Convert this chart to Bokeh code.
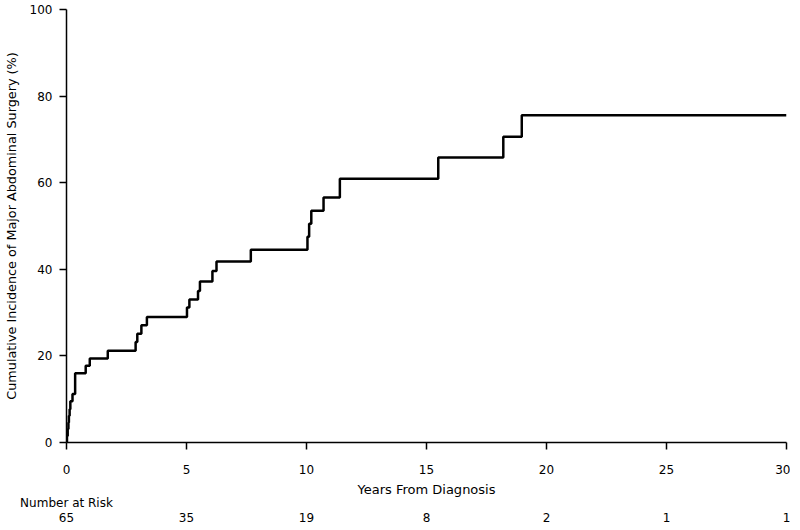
from bokeh.plotting import figure
from bokeh.models import LinearAxis, FixedTicker, Range1d
from bokeh.embed import file_html
from bokeh.resources import INLINE

# Kaplan-Meier style cumulative incidence (step after each event)
years = [0, 0.02, 0.05, 0.08, 0.10, 0.13, 0.16, 0.25, 0.36, 0.80, 0.97, 1.72,
         2.88, 2.95, 3.12, 3.35, 5.02, 5.12, 5.48, 5.56, 6.08, 6.25, 7.68,
         10.04, 10.11, 10.20, 10.71, 11.39, 15.49, 18.20, 18.97, 30.0]
incidence = [0, 1.5, 3.1, 4.6, 6.2, 7.7, 9.5, 11.2, 16.0, 17.7, 19.4, 21.2,
             23.2, 25.1, 27.1, 29.0, 31.2, 33.0, 35.0, 37.2, 39.6, 41.8, 44.5,
             47.5, 50.5, 53.5, 56.6, 60.9, 65.8, 70.6, 75.6, 75.6]

x_ticks = [0, 5, 10, 15, 20, 25, 30]
y_ticks = [0, 20, 40, 60, 80, 100]
risk_years = [0, 5, 10, 15, 20, 25, 30]
risk_counts = ["65", "35", "19", "8", "2", "1", "1"]
risk_title = "Number at Risk"

FONT = "DejaVu Sans"

p = figure(frame_width=720, frame_height=433,
           min_border_left=66, min_border_right=4, min_border_top=9, min_border_bottom=10,
           x_range=Range1d(0, 30), y_range=Range1d(0, 100),
           output_backend="svg", toolbar_location=None)

p.step(years, incidence, mode="after", line_width=2.5, line_color="black")

p.xgrid.visible = False
p.ygrid.visible = False
p.outline_line_color = None
p.background_fill_color = "white"
p.border_fill_color = "white"


def style(ax, size="12px"):
    ax.axis_line_width = 1.5
    ax.axis_line_color = "black"
    ax.major_tick_line_width = 1.5
    ax.major_tick_line_color = "black"
    ax.major_tick_out = 7
    ax.major_tick_in = 0
    ax.minor_tick_line_color = None
    ax.major_label_text_font = FONT
    ax.major_label_text_font_size = "12px"
    ax.major_label_text_color = "black"
    ax.axis_label_text_font = FONT
    ax.axis_label_text_font_size = size
    ax.axis_label_text_font_style = "normal"
    ax.axis_label_text_color = "black"


style(p.xaxis[0], "13px")
style(p.yaxis[0], "12.8px")

p.xaxis[0].ticker = FixedTicker(ticks=x_ticks)
p.yaxis[0].ticker = FixedTicker(ticks=y_ticks)
p.xaxis[0].axis_label = "Years From Diagnosis"
p.yaxis[0].axis_label = "Cumulative Incidence of Major Abdominal Surgery (%)"
p.xaxis[0].major_label_standoff = 15
p.xaxis[0].axis_label_standoff = 5
p.yaxis[0].major_label_standoff = 7
p.yaxis[0].axis_label_standoff = 8

# "Number at Risk" row title (centred on year 0)
title_axis = LinearAxis(ticker=FixedTicker(ticks=[risk_years[0]]),
                        major_label_overrides={risk_years[0]: risk_title})
style(title_axis)
title_axis.axis_line_color = None
title_axis.major_tick_line_color = None
title_axis.major_tick_out = 0
title_axis.major_label_standoff = -4
p.add_layout(title_axis, "below")

# numbers at risk under each year tick
count_axis = LinearAxis(ticker=FixedTicker(ticks=risk_years),
                        major_label_overrides=dict(zip(risk_years, risk_counts)))
style(count_axis)
count_axis.axis_line_color = None
count_axis.major_tick_line_color = None
count_axis.major_tick_out = 0
count_axis.major_label_standoff = 0
p.add_layout(count_axis, "below")

open("out.html", "w").write(file_html(p, INLINE))
